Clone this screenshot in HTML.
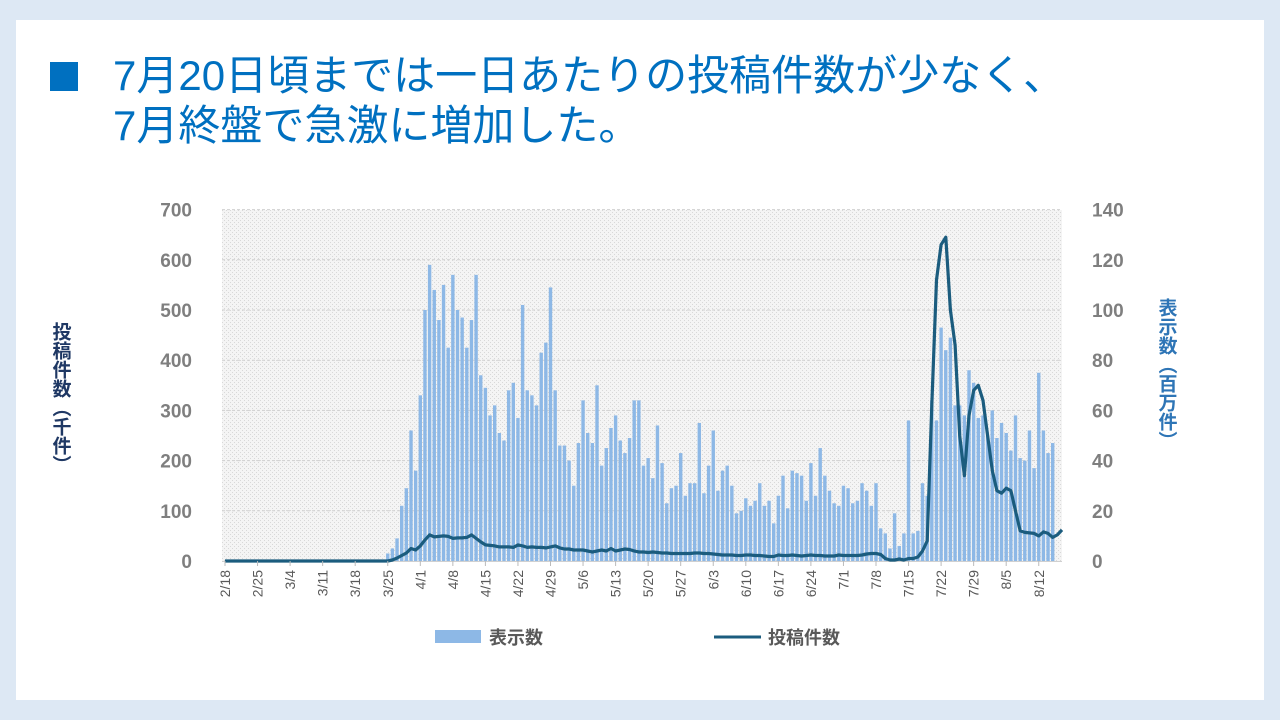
<!DOCTYPE html>
<html><head><meta charset="utf-8">
<style>
html,body{margin:0;padding:0;}
body{width:1280px;height:720px;background:#dde8f4;position:relative;overflow:hidden;font-family:"Liberation Sans","Noto Sans CJK JP",sans-serif;}
.card{position:absolute;left:16px;top:20px;width:1248px;height:680px;background:#fff;}
.sq{position:absolute;left:50px;top:62px;width:28px;height:29px;background:#0070c0;}
.t{position:absolute;left:113px;color:#0070c0;font-size:42px;line-height:46px;white-space:nowrap;}
</style></head><body>
<div class="card"></div>
<div class="sq"></div>
<div class="t" style="top:53px">7月20日頃までは一日あたりの投稿件数が少なく、</div>
<div class="t" style="top:103px">7月終盤で急激に増加した。</div>
<svg id="s" width="1280" height="720" style="position:absolute;left:0;top:0">
<defs><pattern id="p" width="4" height="4" patternUnits="userSpaceOnUse"><rect width="4" height="4" fill="#f4f4f4"/><rect width="1" height="1" fill="#d8d8d8"/><rect x="2" y="2" width="1" height="1" fill="#d8d8d8"/></pattern></defs>
<rect x="222" y="210" width="840" height="351" fill="url(#p)"/>
<g id="g"></g>
</svg>
<script>
var bars=[0,0,0,0,0,0,0,0,0,0,0,0,0,0,0,0,0,0,0,0,0,0,0,0,0,0,0,0,0,0,0,0,0,0,0,
15,25,45,110,145,260,180,330,500,590,540,480,550,425,570,500,485,425,480,570,370,345,290,310,255,240,340,355,285,510,340,330,310,415,435,545,340,230,230,200,150,235,320,255,235,350,190,225,265,290,240,215,245,320,320,190,205,165,270,195,115,145,150,215,130,155,155,275,135,190,260,140,180,190,150,95,100,125,110,120,155,110,120,75,130,170,105,180,175,170,120,195,130,225,170,140,115,110,150,145,115,120,155,140,110,155,65,55,25,95,30,55,280,55,60,155,130,320,280,465,420,445,310,310,290,380,355,285,290,250,300,245,275,255,220,290,205,200,260,185,375,260,215,235];
var line={35:0,36:2,37:6,38:11,39:16,40:25,41:22,42:30,43:42,44:52,45:48,46:49,47:50,48:49,49:45,50:46,51:46,52:47,53:52,54:45,55:38,56:32,57:31,58:30,59:28,60:28,61:28,62:27,63:32,64:30,65:27,66:28,67:27,68:27,69:26,70:28,71:30,72:26,73:24,74:24,75:22,76:22,77:22,78:20,79:18,80:20,81:22,82:20,83:25,84:20,85:22,86:24,87:23,88:20,89:18,90:18,91:17,92:18,93:17,94:16,95:16,96:15,97:15,98:15,99:15,100:15,101:16,102:16,103:15,104:15,105:14,106:13,107:12,108:12,109:12,110:11,111:11,112:12,113:12,114:11,115:11,116:10,117:9,118:9,119:12,120:11,121:11,122:12,123:11,124:10,125:11,126:12,127:11,128:11,129:10,130:10,131:10,132:12,133:11,134:11,135:11,136:11,137:12,138:14,139:15,140:15,141:13,142:5,143:2,144:2,145:4,146:2,147:5,148:5,149:8,150:20,151:40,152:310,153:560,154:630,155:645,156:500,157:430,158:250,159:170,160:290,161:340,162:350,163:320,164:250,165:180,166:140,167:135,168:145,169:140,170:100,171:60,172:57,173:56,174:55,175:50,176:58,177:55,178:47,179:52,180:62};
var g='',X=function(i){return 225+i*4.65},Y=function(v){return 561-v*0.502};
for(var k=1;k<=7;k++){var y=Y(k*100);g+='<line x1="222" x2="1062" y1="'+y+'" y2="'+y+'" stroke="#d0d0d0" stroke-dasharray="3,2"/>';}
for(var i=0;i<bars.length;i++){if(bars[i]>0){g+='<rect x="'+(X(i)-1.7)+'" y="'+Y(bars[i])+'" width="3.4" height="'+(bars[i]*0.502)+'" fill="#8db8e6"/>';}}
var pts=[];for(var i=0;i<=180;i++){var v=line[i]!==undefined?line[i]:0;pts.push(X(i).toFixed(1)+','+Y(v).toFixed(1));}
g+='<line x1="222" x2="1062" y1="561.5" y2="561.5" stroke="#d0d0d0"/>';
g+='<polyline points="'+pts.join(' ')+'" fill="none" stroke="#1b5c7e" stroke-width="3.2" stroke-linejoin="round"/>';
for(var k=0;k<=7;k++){var y=Y(k*100)+7;g+='<text x="192" y="'+y+'" text-anchor="end" font-size="19" font-weight="bold" fill="#7f7f7f">'+(k*100)+'</text>';g+='<text x="1092" y="'+y+'" text-anchor="start" font-size="19" font-weight="bold" fill="#7f7f7f">'+(k*20)+'</text>';}
var labs=['2/18','2/25','3/4','3/11','3/18','3/25','4/1','4/8','4/15','4/22','4/29','5/6','5/13','5/20','5/27','6/3','6/10','6/17','6/24','7/1','7/8','7/15','7/22','7/29','8/5','8/12'];
for(var k=0;k<labs.length;k++){var x=X(k*7);g+='<line x1="'+x+'" x2="'+x+'" y1="561" y2="566" stroke="#bbb"/>';g+='<text transform="translate('+(x+5)+',570) rotate(-90)" text-anchor="end" font-size="14" fill="#595959">'+labs[k]+'</text>';}
g+='<text x="60" y="322" font-size="19" font-weight="bold" fill="#1f3864" style="writing-mode:vertical-rl" >投稿件数（千件）</text>';
g+='<text x="1166" y="298" font-size="19" font-weight="bold" fill="#2e75b6" style="writing-mode:vertical-rl">表示数（百万件）</text>';
g+='<rect x="435" y="630" width="46" height="13" fill="#8db8e6"/><text x="489" y="644" font-size="18" font-weight="bold" fill="#595959">表示数</text>';
g+='<line x1="714" x2="761" y1="637" y2="637" stroke="#1b5c7e" stroke-width="3"/><text x="768" y="644" font-size="18" font-weight="bold" fill="#595959">投稿件数</text>';
document.getElementById('g').innerHTML=g;
</script>
</body></html>
